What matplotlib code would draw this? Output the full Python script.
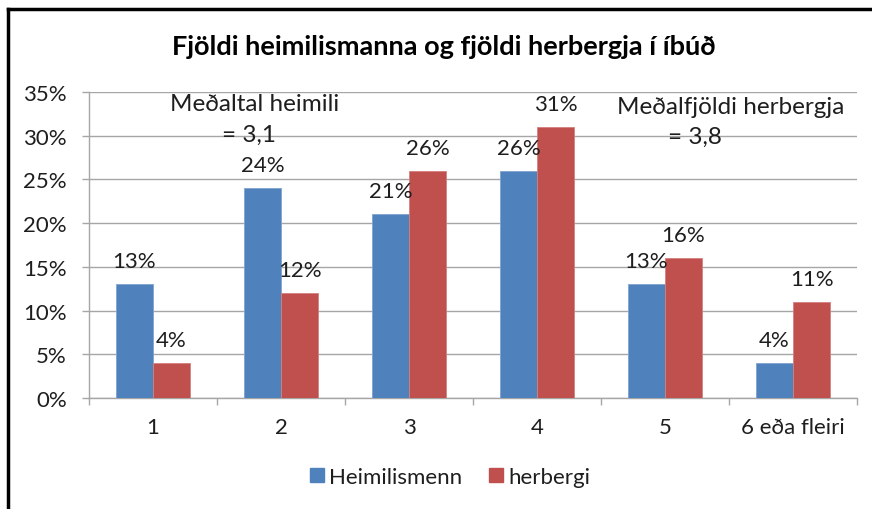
import matplotlib
matplotlib.use("Agg")
import matplotlib.pyplot as plt
import numpy as np
from matplotlib.lines import Line2D

# ---------------------------------------------------------------------------
# Data
# ---------------------------------------------------------------------------
categories = ["1", "2", "3", "4", "5", "6 eða fleiri"]
heimilismenn = [13, 24, 21, 26, 13, 4]
herbergi = [4, 12, 26, 31, 16, 11]
series_names = ["Heimilismenn", "herbergi"]
y_ticks = [0, 5, 10, 15, 20, 25, 30, 35]

TITLE = "Fjöldi heimilismanna og fjöldi herbergja í íbúð"
NOTE_LEFT = ("Meðaltal heimili", "= 3,1")
NOTE_RIGHT = ("Meðalfjöldi herbergja", "= 3,8")

BLUE = "#4F81BD"
RED = "#C0504D"
GRID = "#A6A6A6"
TXT = "#1E1E1E"
FONT = "Lato"

FS_TICK = 16
FS_VAL = 16
FS_NOTE = 17.5
FS_TITLE = 19.5
FS_LEG = 16

W, H = 872, 510
plt.rcParams["font.family"] = [FONT, "DejaVu Sans"]

fig = plt.figure(figsize=(W / 100, H / 100), dpi=100)
ax = fig.add_axes([89 / W, 1 - 399 / H, (857 - 89) / W, (399 - 93) / H])

x = np.arange(len(categories))
bw = 0.29
b1 = ax.bar(x - bw / 2, heimilismenn, bw, color=BLUE, edgecolor="#7FA3D0",
            linewidth=0.6, zorder=3, label=series_names[0])
b2 = ax.bar(x + bw / 2, herbergi, bw, color=RED, edgecolor="#D4807E",
            linewidth=0.6, zorder=3, label=series_names[1])

for bars, vals in ((b1, heimilismenn), (b2, herbergi)):
    for rect, v in zip(bars, vals):
        ax.annotate(f"{v}%", (rect.get_x() + rect.get_width() / 2, v),
                    xytext=(0, 16.5), textcoords="offset points",
                    ha="center", va="center", fontsize=FS_VAL, color=TXT,
                    zorder=5)

ax.set_xlim(-0.5, len(categories) - 0.5)
ax.set_ylim(0, 35)
ax.set_yticks(y_ticks)
ax.set_yticklabels([f"{t}%" for t in y_ticks])
ax.yaxis.grid(True, color=GRID, linewidth=1.0, zorder=0)
ax.set_axisbelow(True)

ax.set_xticks(x)
ax.set_xticklabels(categories)
ax.set_xticks(np.arange(-0.5, len(categories)), minor=True)
ax.tick_params(axis="x", which="major", length=0, pad=14,
               labelsize=FS_TICK, labelcolor=TXT)
ax.tick_params(axis="x", which="minor", length=5, color=GRID, width=1)
ax.tick_params(axis="y", length=5, color=GRID, width=1, pad=11,
               labelsize=FS_TICK, labelcolor=TXT)

for s in ("top", "right"):
    ax.spines[s].set_visible(False)
for s in ("left", "bottom"):
    ax.spines[s].set_color(GRID)
    ax.spines[s].set_linewidth(1.0)

# notes
fig.text(170 / W, 1 - 105 / H, NOTE_LEFT[0], ha="left", va="center",
         fontsize=FS_NOTE, color=TXT)
fig.text(222 / W, 1 - 135 / H, NOTE_LEFT[1], ha="left", va="center",
         fontsize=FS_NOTE, color=TXT)
fig.text(617 / W, 1 - 107 / H, NOTE_RIGHT[0], ha="left", va="center",
         fontsize=FS_NOTE, color=TXT)
fig.text(668 / W, 1 - 137 / H, NOTE_RIGHT[1], ha="left", va="center",
         fontsize=FS_NOTE, color=TXT)

fig.text(444 / W, 1 - 47 / H, TITLE, ha="center", va="center",
         fontsize=FS_TITLE, fontweight="bold", color="black")

handles = [Line2D([], [], marker="s", linestyle="none", markersize=10.5,
                  markerfacecolor=c, markeredgecolor=c) for c in (BLUE, RED)]
fig.legend(handles, series_names, loc="center", ncol=2,
           bbox_to_anchor=(448 / W, 1 - 478 / H), frameon=False,
           fontsize=FS_LEG, handletextpad=0.05, columnspacing=1.0,
           handlelength=1.0, labelcolor=TXT)

# outer frame (top and left edges visible)
fig.add_artist(Line2D([8 / W, 1.0], [1 - 10 / H, 1 - 10 / H],
                      transform=fig.transFigure, color="black", linewidth=2.5))
fig.add_artist(Line2D([8 / W, 8 / W], [0, 1 - 10 / H],
                      transform=fig.transFigure, color="black", linewidth=2.5))

fig.savefig("out.png", dpi=100)
